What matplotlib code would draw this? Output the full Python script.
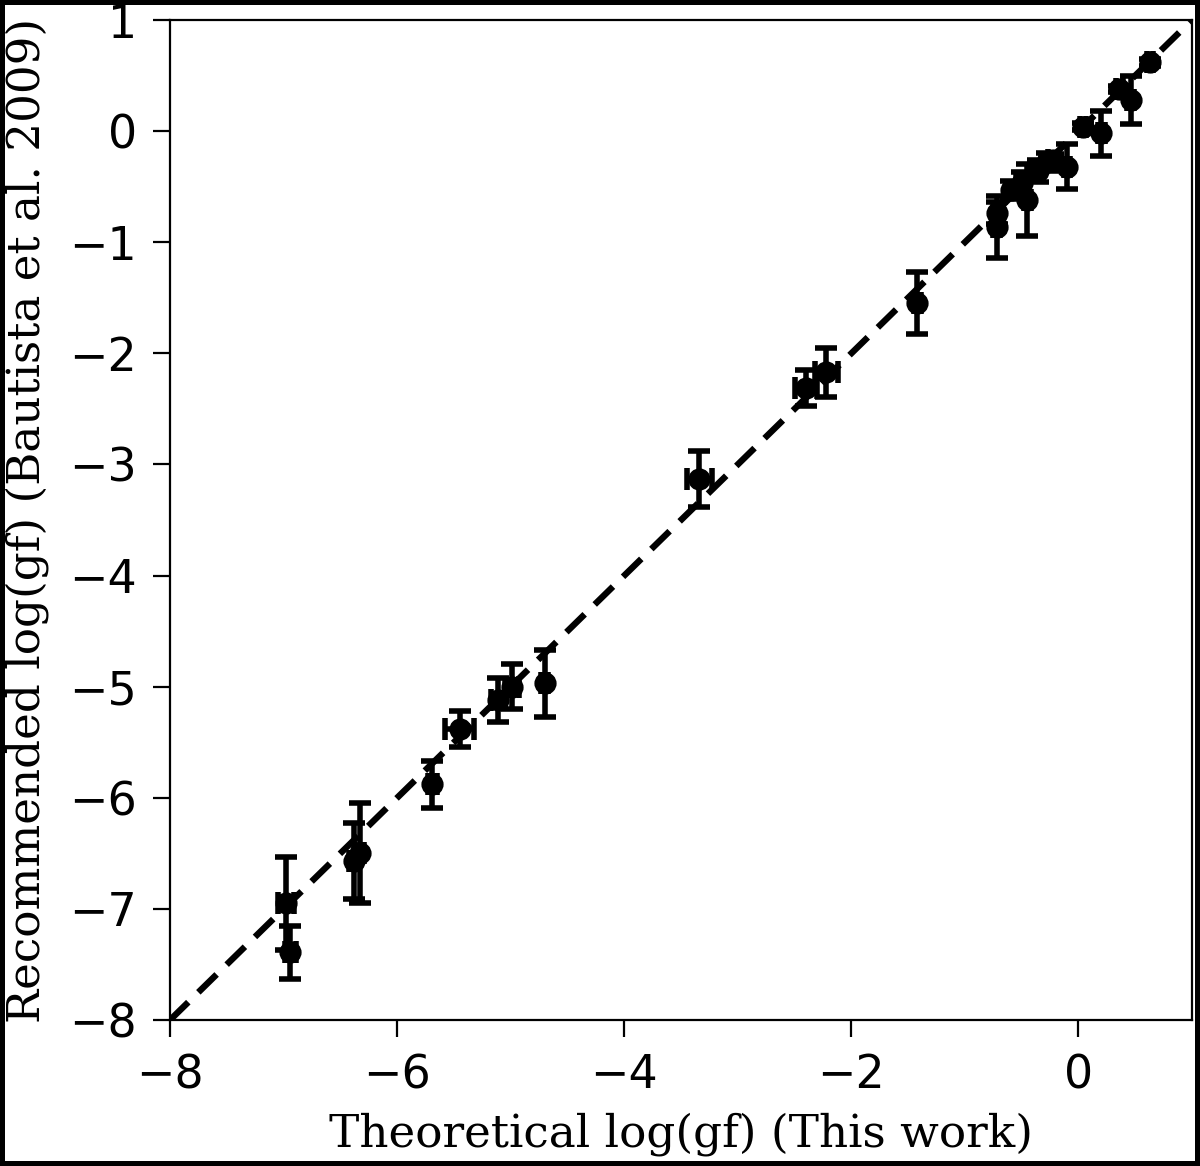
import numpy as np
import matplotlib
matplotlib.use('Agg')
import matplotlib.pyplot as plt

## Dati
x_theo = [-6.98, -6.94, -6.38, -6.33, -5.69, -5.45, -5.11, -4.99, -4.70,
          -3.34, -2.40, -2.22, -1.42, -0.72, -0.72, -0.59, -0.50, -0.45,
          -0.36, -0.28, -0.22, -0.10, 0.04, 0.20, 0.36, 0.46, 0.63]
y_rec = [-6.95, -7.39, -6.57, -6.50, -5.88, -5.38, -5.12, -5.00, -4.97,
         -3.13, -2.31, -2.17, -1.55, -0.86, -0.74, -0.53, -0.47, -0.62,
         -0.36, -0.28, -0.26, -0.32, 0.04, -0.02, 0.38, 0.28, 0.62]
x_err = [0.07, 0.05, 0.04, 0.04, 0.04, 0.13, 0.06, 0.06, 0.03,
         0.11, 0.10, 0.10, 0.03, 0.03, 0.03, 0.05, 0.05, 0.03,
         0.05, 0.05, 0.05, 0.03, 0.03, 0.03, 0.03, 0.03, 0.03]
y_err = [0.42, 0.24, 0.34, 0.45, 0.21, 0.16, 0.20, 0.20, 0.30,
         0.25, 0.16, 0.22, 0.28, 0.28, 0.10, 0.08, 0.10, 0.32,
         0.10, 0.08, 0.05, 0.20, 0.03, 0.20, 0.03, 0.22, 0.03]

line_x = [-8, 1]

fig = plt.figure(figsize=(6, 5.83), dpi=200)
fig.patch.set_edgecolor('black')
fig.patch.set_linewidth(3)
ax = fig.add_axes([0.1417, 0.1252, 0.8516, 0.8576])

ax.plot(line_x, line_x, 'k--', lw=2.3, dashes=(4, 2.2))
ax.errorbar(x_theo, y_rec, yerr=y_err, xerr=x_err, fmt='o', color='black',
            ms=7, elinewidth=2, capsize=4, capthick=2)

ax.set_xlim(-8, 1)
ax.set_ylim(-8, 1)
ax.set_xticks([-8, -6, -4, -2, 0])
ax.set_yticks(np.arange(-8, 2, 1))
ax.tick_params(labelsize=16.5, length=6, pad=6)

ax.set_xlabel('Theoretical log(gf) (This work)', family='DejaVu Serif', fontsize=16.3)
ax.set_ylabel('Recommended log(gf) (Bautista et al. 2009)', family='DejaVu Serif', fontsize=16.3)
ax.xaxis.set_label_coords(0.5, -0.092)
ax.yaxis.set_label_coords(-0.118, 0.5)

fig.savefig('out.png', dpi=200, edgecolor=fig.get_edgecolor())
